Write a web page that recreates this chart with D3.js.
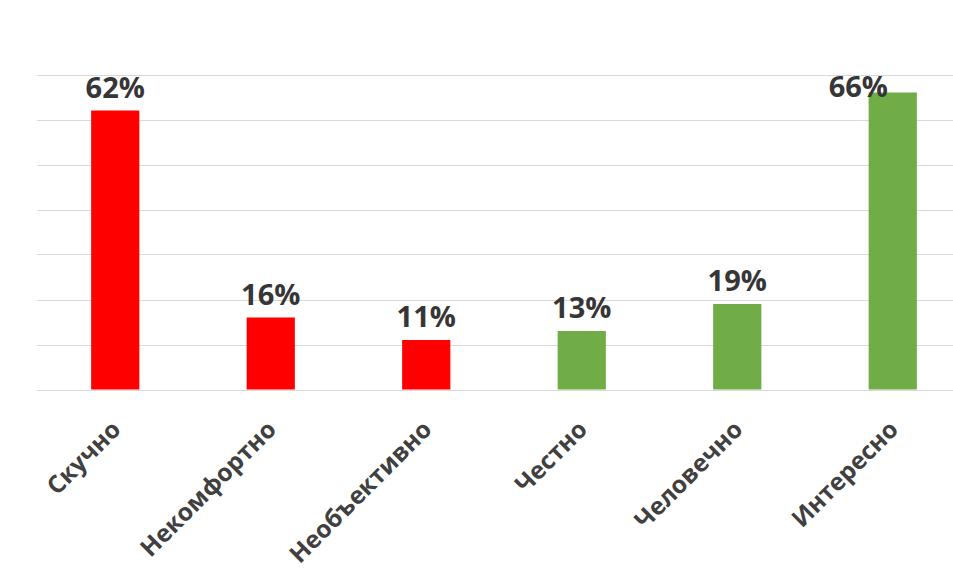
<!DOCTYPE html>
<html><head><meta charset="utf-8">
<script src="https://cdn.jsdelivr.net/npm/d3@7"></script>
<style>body{margin:0;background:#fff}svg{display:block}</style>
</head><body>
<svg id="c" width="953" height="569"></svg>
<script>
const categories = ["Скучно","Некомфортно","Необъективно","Честно","Человечно","Интересно"];
const values = [62,16,11,13,19,66];
const colors = ["#ff0000","#ff0000","#ff0000","#70ad47","#70ad47","#70ad47"];
const yTicks = [0,10,20,30,40,50,60,70];

const svg = d3.select("#c");
const x = d3.scaleBand().domain(categories).range([37.5, 970.5]).paddingInner(0.69).paddingOuter(0.345);
const y = d3.scaleLinear().domain([0,70]).range([389.5, 74.5]);

svg.append("g").selectAll("line").data(yTicks).join("line")
  .attr("x1", 37).attr("x2", 953)
  .attr("y1", d => Math.round(y(d)) + 0.5).attr("y2", d => Math.round(y(d)) + 0.5)
  .attr("stroke", "#d9d9d9").attr("stroke-width", 1);

svg.append("g").selectAll("rect").data(values).join("rect")
  .attr("x", (d,i) => x(categories[i]))
  .attr("width", x.bandwidth())
  .attr("y", d => y(d))
  .attr("height", d => y(0) - y(d))
  .attr("fill", (d,i) => colors[i]);

const labels = svg.append("g").selectAll("text").data(values).join("text")
  .attr("x", (d,i) => x(categories[i]) + x.bandwidth()/2)
  .attr("y", d => Math.max(y(d) - 13, 97))
  .attr("text-anchor", "middle")
  .attr("font-family", "Open Sans")
  .attr("font-weight", 700)
  .attr("font-size", 29)
  .attr("fill", "#363636")
  .text(d => d + "%");
labels.each(function(){
  const bb = this.getBBox();
  const over = bb.x + bb.width - 888;
  if (over > 0) d3.select(this).attr("x", +d3.select(this).attr("x") - over);
});

svg.append("g").selectAll("text").data(categories).join("text")
  .attr("transform", d => `translate(${x(d) + x.bandwidth()/2 - 6},${418}) rotate(-45)`)
  .attr("text-anchor", "end")
  .attr("dy", "0.75em")
  .attr("font-family", "Open Sans")
  .attr("font-weight", 700)
  .attr("font-size", 24.5)
  .attr("fill", "#404040")
  .text(d => d);
</script>
</body></html>
